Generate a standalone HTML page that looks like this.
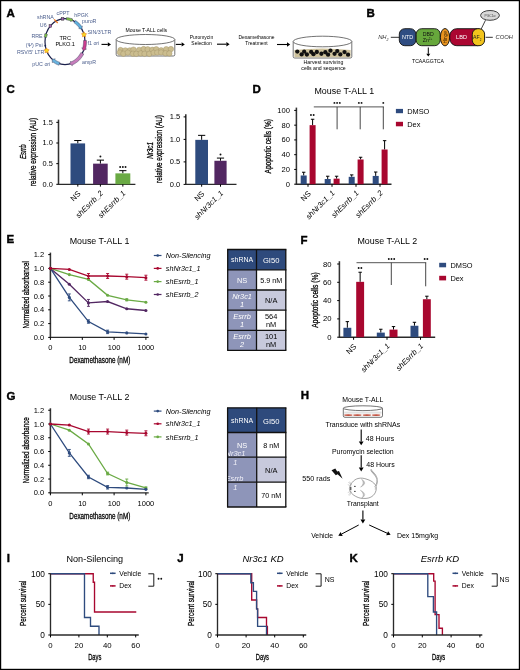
<!DOCTYPE html>
<html><head><meta charset="utf-8"><style>
html,body{margin:0;padding:0;background:#fff;overflow:hidden;width:520px;height:670px;}
svg{display:block;filter:blur(0.3px);}
text{font-family:"Liberation Sans", sans-serif;}
</style></head><body>
<svg width="520" height="670" viewBox="0 0 520 670">
<rect x="0.6" y="0.6" width="518.8" height="668.8" fill="#fff" stroke="#000" stroke-width="1.2"/>
<text x="6.50" y="16.50" font-size="11.5" text-anchor="start" fill="#000" stroke="#000" stroke-width="0.4" font-weight="bold" >A</text>
<ellipse cx="65.0" cy="41.7" rx="20" ry="23" fill="none" stroke="#1a1f4a" stroke-width="1.2"/>
<text x="65.20" y="39.80" font-size="5.6" text-anchor="middle" fill="#000" >TRC</text>
<text x="65.20" y="46.30" font-size="5.6" text-anchor="middle" fill="#000" >PLKO.1</text>
<polygon points="66.49,17.56 66.93,17.60 67.36,17.65 67.79,17.71 68.22,17.78 68.65,17.86 69.08,17.95 69.50,18.05 69.93,18.16 70.35,18.28 70.77,18.41 71.19,18.55 71.60,18.70 71.81,18.14 73.13,20.69 70.55,21.51 70.76,20.95 70.40,20.82 70.03,20.70 69.67,20.58 69.30,20.48 68.93,20.38 68.55,20.29 68.18,20.21 67.81,20.14 67.43,20.08 67.05,20.03 66.68,19.99 66.30,19.95" fill="#7cc242" stroke="#3a3a5a" stroke-width="0.45" stroke-linejoin="round"/>
<polygon points="75.45,20.40 76.04,20.80 76.63,21.21 77.20,21.65 77.75,22.10 78.30,22.58 78.83,23.07 79.34,23.59 79.84,24.12 80.33,24.67 80.80,25.24 81.25,25.82 81.69,26.42 82.34,25.96 81.77,29.17 78.74,28.49 79.40,28.03 79.01,27.50 78.61,26.99 78.20,26.49 77.77,26.01 77.34,25.54 76.88,25.09 76.42,24.66 75.95,24.24 75.46,23.84 74.96,23.46 74.46,23.11 73.94,22.76" fill="#5fb0dd" stroke="#3a3a5a" stroke-width="0.45" stroke-linejoin="round"/>
<polygon points="86.47,40.43 86.49,41.13 86.50,41.84 86.49,42.55 86.46,43.25 86.41,43.96 86.34,44.66 86.26,45.36 86.16,46.06 86.04,46.75 85.90,47.44 85.75,48.13 85.58,48.81 86.45,49.04 83.41,50.69 81.81,47.81 82.68,48.04 82.83,47.43 82.97,46.82 83.09,46.21 83.19,45.59 83.28,44.97 83.36,44.34 83.42,43.72 83.46,43.09 83.49,42.46 83.50,41.83 83.49,41.20 83.47,40.56" fill="#cc3d8f" stroke="#3a3a5a" stroke-width="0.45" stroke-linejoin="round"/>
<polygon points="83.75,53.92 83.08,55.16 82.35,56.36 81.55,57.51 80.70,58.60 79.79,59.64 78.82,60.61 77.81,61.51 76.74,62.35 75.64,63.11 74.49,63.80 73.31,64.41 72.10,64.93 72.39,65.68 69.84,64.02 70.63,61.22 70.92,61.96 71.94,61.52 72.94,61.00 73.91,60.42 74.85,59.77 75.75,59.06 76.62,58.29 77.45,57.45 78.24,56.56 78.98,55.61 79.67,54.62 80.31,53.57 80.89,52.48" fill="#c77dbb" stroke="#3a3a5a" stroke-width="0.45" stroke-linejoin="round"/>
<polygon points="59.02,65.23 58.47,65.05 57.94,64.84 57.40,64.62 56.88,64.39 56.35,64.13 55.84,63.87 55.33,63.58 54.83,63.29 54.33,62.98 53.85,62.65 53.37,62.31 52.90,61.95 52.35,62.66 52.14,59.32 55.29,58.87 54.74,59.58 55.14,59.89 55.55,60.18 55.97,60.46 56.39,60.73 56.82,60.98 57.26,61.22 57.70,61.45 58.14,61.66 58.59,61.87 59.04,62.05 59.50,62.23 59.96,62.38" fill="#6ab4de" stroke="#3a3a5a" stroke-width="0.45" stroke-linejoin="round"/>
<polygon points="44.18,37.11 44.23,36.87 44.27,36.63 44.32,36.39 44.36,36.15 44.41,35.92 44.47,35.68 44.52,35.44 44.58,35.20 44.64,34.97 44.70,34.73 44.76,34.50 44.82,34.27 44.34,34.13 46.33,33.46 47.61,35.05 47.13,34.92 47.07,35.13 47.02,35.34 46.96,35.56 46.91,35.77 46.86,35.99 46.81,36.20 46.76,36.42 46.71,36.64 46.67,36.86 46.63,37.07 46.59,37.29 46.55,37.51" fill="#7cc242" stroke="#3a3a5a" stroke-width="0.45" stroke-linejoin="round"/>
<rect x="61.26" y="17.57" width="2.60" height="2.60" fill="#a05fb0" stroke="#333" stroke-width="0.5" />
<rect x="49.07" y="24.71" width="2.60" height="2.60" fill="#a05fb0" stroke="#333" stroke-width="0.5" />
<line x1="54.12" y1="19.41" x2="57.72" y2="23.01" stroke="#e87722" stroke-width="1.3" />
<polygon points="84.02,31.89 84.84,33.46 86.59,33.76 85.35,35.03 85.61,36.78 84.02,35.99 82.43,36.78 82.69,35.03 81.45,33.76 83.20,33.46" fill="#f7e11e" stroke="#f08c1e" stroke-width="0.7"/>
<polygon points="46.59,47.99 47.41,49.55 49.16,49.85 47.92,51.12 48.18,52.87 46.59,52.09 45.00,52.87 45.26,51.12 44.02,49.85 45.77,49.55" fill="#f7e11e" stroke="#f08c1e" stroke-width="0.7"/>
<circle cx="45.30" cy="45.69" r="0.9" fill="#1a2550" stroke="none" stroke-width="0.5"/>
<text x="53.80" y="19.20" font-size="5.3" text-anchor="end" fill="#4a5d8c" >shRNA</text>
<text x="63.00" y="14.80" font-size="5.3" text-anchor="middle" fill="#4a5d8c" >cPPT</text>
<text x="74.30" y="17.40" font-size="5.3" text-anchor="start" fill="#4a5d8c" >hPGK</text>
<text x="46.60" y="27.40" font-size="5.3" text-anchor="end" fill="#4a5d8c" >U6</text>
<text x="42.60" y="37.90" font-size="5.3" text-anchor="end" fill="#4a5d8c" >RRE</text>
<text x="42.60" y="47.40" font-size="5.3" text-anchor="end" fill="#4a5d8c" >(Ψ) Psi</text>
<text x="44.30" y="53.50" font-size="5.3" text-anchor="end" fill="#4a5d8c" >RSV/5′ LTR</text>
<text x="50.30" y="66.30" font-size="5.3" text-anchor="end" fill="#4a5d8c" >pUC ori</text>
<text x="82.00" y="23.40" font-size="5.3" text-anchor="start" fill="#4a5d8c" >puroR</text>
<text x="87.50" y="34.40" font-size="5.3" text-anchor="start" fill="#4a5d8c" >SIN/3′LTR</text>
<text x="87.50" y="45.20" font-size="5.3" text-anchor="start" fill="#4a5d8c" >f1 ori</text>
<text x="82.00" y="63.50" font-size="5.3" text-anchor="start" fill="#4a5d8c" >ampR</text>
<line x1="101.50" y1="44.40" x2="107.80" y2="44.40" stroke="#000" stroke-width="1.1" />
<polygon points="111.00,44.40 107.80,46.60 107.80,42.20" fill="#000"/>
<path d="M116.2,39.5 L116.2,54.5 Q116.2,56 117.7,56 L173.3,56 Q174.8,56 174.8,54.5 L174.8,39.5" stroke="#444" stroke-width="0.75" fill="#fff" />
<circle cx="120.55" cy="50.09" r="2.75" fill="#cbbd8f" stroke="#9d8e63" stroke-width="0.4"/>
<circle cx="125.31" cy="50.41" r="2.75" fill="#cbbd8f" stroke="#9d8e63" stroke-width="0.4"/>
<circle cx="129.80" cy="50.38" r="2.75" fill="#cbbd8f" stroke="#9d8e63" stroke-width="0.4"/>
<circle cx="133.50" cy="49.64" r="2.75" fill="#cbbd8f" stroke="#9d8e63" stroke-width="0.4"/>
<circle cx="139.15" cy="49.94" r="2.75" fill="#cbbd8f" stroke="#9d8e63" stroke-width="0.4"/>
<circle cx="143.65" cy="49.08" r="2.75" fill="#cbbd8f" stroke="#9d8e63" stroke-width="0.4"/>
<circle cx="147.69" cy="49.29" r="2.75" fill="#cbbd8f" stroke="#9d8e63" stroke-width="0.4"/>
<circle cx="152.33" cy="49.82" r="2.75" fill="#cbbd8f" stroke="#9d8e63" stroke-width="0.4"/>
<circle cx="156.25" cy="49.25" r="2.75" fill="#cbbd8f" stroke="#9d8e63" stroke-width="0.4"/>
<circle cx="161.13" cy="50.37" r="2.75" fill="#cbbd8f" stroke="#9d8e63" stroke-width="0.4"/>
<circle cx="166.26" cy="49.16" r="2.75" fill="#cbbd8f" stroke="#9d8e63" stroke-width="0.4"/>
<circle cx="170.86" cy="49.12" r="2.75" fill="#cbbd8f" stroke="#9d8e63" stroke-width="0.4"/>
<circle cx="119.94" cy="52.50" r="2.75" fill="#cbbd8f" stroke="#9d8e63" stroke-width="0.4"/>
<circle cx="123.38" cy="53.69" r="2.75" fill="#cbbd8f" stroke="#9d8e63" stroke-width="0.4"/>
<circle cx="127.80" cy="52.64" r="2.75" fill="#cbbd8f" stroke="#9d8e63" stroke-width="0.4"/>
<circle cx="132.90" cy="53.70" r="2.75" fill="#cbbd8f" stroke="#9d8e63" stroke-width="0.4"/>
<circle cx="136.25" cy="53.84" r="2.75" fill="#cbbd8f" stroke="#9d8e63" stroke-width="0.4"/>
<circle cx="140.72" cy="53.38" r="2.75" fill="#cbbd8f" stroke="#9d8e63" stroke-width="0.4"/>
<circle cx="144.50" cy="53.81" r="2.75" fill="#cbbd8f" stroke="#9d8e63" stroke-width="0.4"/>
<circle cx="149.25" cy="53.85" r="2.75" fill="#cbbd8f" stroke="#9d8e63" stroke-width="0.4"/>
<circle cx="153.67" cy="52.78" r="2.75" fill="#cbbd8f" stroke="#9d8e63" stroke-width="0.4"/>
<circle cx="157.21" cy="52.57" r="2.75" fill="#cbbd8f" stroke="#9d8e63" stroke-width="0.4"/>
<circle cx="161.12" cy="52.40" r="2.75" fill="#cbbd8f" stroke="#9d8e63" stroke-width="0.4"/>
<circle cx="165.49" cy="53.26" r="2.75" fill="#cbbd8f" stroke="#9d8e63" stroke-width="0.4"/>
<circle cx="169.30" cy="53.38" r="2.75" fill="#cbbd8f" stroke="#9d8e63" stroke-width="0.4"/>
<ellipse cx="145.5" cy="39.5" rx="29.3" ry="5" fill="#fff" stroke="#444" stroke-width="0.75"/>
<text x="146.30" y="32.40" font-size="5.1" text-anchor="middle" fill="#000" >Mouse T-ALL cells</text>
<line x1="175.80" y1="44.40" x2="181.60" y2="44.40" stroke="#000" stroke-width="1.1" />
<polygon points="184.80,44.40 181.60,46.60 181.60,42.20" fill="#000"/>
<text x="201.50" y="38.90" font-size="4.95" text-anchor="middle" fill="#000" >Puromycin</text>
<text x="201.50" y="45.30" font-size="4.95" text-anchor="middle" fill="#000" >Selection</text>
<line x1="217.00" y1="44.20" x2="226.40" y2="44.20" stroke="#000" stroke-width="1.1" />
<polygon points="229.60,44.20 226.40,46.40 226.40,42.00" fill="#000"/>
<text x="256.50" y="38.90" font-size="4.95" text-anchor="middle" fill="#000" >Dexamethasone</text>
<text x="256.50" y="45.30" font-size="4.95" text-anchor="middle" fill="#000" >Treatment</text>
<line x1="277.00" y1="44.50" x2="287.00" y2="44.50" stroke="#000" stroke-width="1.1" />
<polygon points="290.20,44.50 287.00,46.70 287.00,42.30" fill="#000"/>
<path d="M293.2,41.5 L293.2,56.5 Q293.2,58 294.7,58 L350.3,58 Q351.8,58 351.8,56.5 L351.8,41.5" stroke="#444" stroke-width="0.75" fill="#fff" />
<path d="M294.4,57.2 L294.4,50.0 Q322.5,47.0 350.6,50.0 L350.6,57.2 Z" fill="#cfc39d"/>
<circle cx="297.30" cy="51.60" r="2.15" fill="#111"/>
<circle cx="301.62" cy="54.45" r="2.15" fill="#111"/>
<circle cx="304.16" cy="51.64" r="2.15" fill="#111"/>
<circle cx="306.89" cy="54.52" r="2.15" fill="#111"/>
<circle cx="311.15" cy="51.97" r="2.15" fill="#111"/>
<circle cx="313.45" cy="54.19" r="2.15" fill="#111"/>
<circle cx="316.82" cy="52.00" r="2.15" fill="#111"/>
<circle cx="321.40" cy="53.77" r="2.15" fill="#111"/>
<circle cx="325.35" cy="52.24" r="2.15" fill="#111"/>
<circle cx="328.07" cy="54.68" r="2.15" fill="#111"/>
<circle cx="330.45" cy="50.72" r="2.15" fill="#111"/>
<circle cx="334.56" cy="53.80" r="2.15" fill="#111"/>
<circle cx="337.26" cy="51.09" r="2.15" fill="#111"/>
<circle cx="340.31" cy="54.44" r="2.15" fill="#111"/>
<circle cx="344.51" cy="52.05" r="2.15" fill="#111"/>
<circle cx="348.04" cy="54.72" r="2.15" fill="#111"/>
<ellipse cx="322.5" cy="41.5" rx="29.3" ry="5.3" fill="#fff" stroke="#444" stroke-width="0.75"/>
<text x="323.50" y="63.80" font-size="5.2" text-anchor="middle" fill="#000" >Harvest surviving</text>
<text x="323.50" y="69.60" font-size="5.2" text-anchor="middle" fill="#000" >cells and sequence</text>
<text x="366.50" y="16.50" font-size="11.5" text-anchor="start" fill="#000" stroke="#000" stroke-width="0.4" font-weight="bold" >B</text>
<text x="388.50" y="39.30" font-size="5.8" text-anchor="end" fill="#333" font-style="italic" >NH<tspan font-size="3.5" dy="1.5">2</tspan></text>
<line x1="390.80" y1="37.30" x2="399.50" y2="37.30" stroke="#333" stroke-width="1" />
<rect x="399.30" y="28.70" width="16.60" height="17.00" fill="#2f4d82" stroke="#111" stroke-width="0.9" rx="5.5"/>
<text x="407.60" y="39.30" font-size="5.4" text-anchor="middle" fill="#fff" >NTD</text>
<rect x="416.20" y="28.70" width="24.00" height="17.00" fill="#67a83c" stroke="#111" stroke-width="0.9" rx="5.5"/>
<text x="428.20" y="35.60" font-size="5.2" text-anchor="middle" fill="#111" >DBD</text>
<text x="427.50" y="42.20" font-size="5.2" text-anchor="middle" fill="#111" >Zn<tspan font-size="3" dy="-2">2+</tspan></text>
<ellipse cx="445" cy="37.2" rx="4.6" ry="8.7" fill="#e8931f" stroke="#111" stroke-width="0.9"/>
<text transform="translate(446.6,37.4) rotate(-90)" font-size="4.6" text-anchor="middle" fill="#3a2505" textLength="12.3" lengthAdjust="spacingAndGlyphs">Hinge</text>
<rect x="449.80" y="28.70" width="34.60" height="17.00" fill="#ab0631" stroke="#111" stroke-width="0.9" rx="7"/>
<text x="461.50" y="39.30" font-size="5.6" text-anchor="middle" fill="#fff" >LBD</text>
<rect x="472.30" y="28.70" width="12.30" height="17.00" fill="#f2c41c" stroke="#111" stroke-width="0.9" rx="5.5"/>
<text x="477.20" y="39.30" font-size="5.2" text-anchor="middle" fill="#222" >AF<tspan font-size="3" dy="1.5">2</tspan></text>
<line x1="481.20" y1="29.00" x2="485.50" y2="20.20" stroke="#111" stroke-width="0.8" />
<ellipse cx="490" cy="15.4" rx="9.4" ry="4.9" fill="#d8d8d8" stroke="#111" stroke-width="0.8"/>
<text x="490.00" y="16.80" font-size="3.4" text-anchor="middle" fill="#444" >PGC1α</text>
<line x1="485.60" y1="37.30" x2="492.80" y2="37.30" stroke="#333" stroke-width="1" />
<text x="495.50" y="39.30" font-size="5.8" text-anchor="start" fill="#333" font-style="italic" >COOH</text>
<line x1="428.30" y1="47.50" x2="428.30" y2="53.80" stroke="#000" stroke-width="1" />
<polygon points="428.30,56.60 426.30,53.80 430.30,53.80" fill="#000"/>
<text x="428.00" y="63.00" font-size="5.15" text-anchor="middle" fill="#000" >TCAAGGTCA</text>
<text x="6.50" y="92.50" font-size="11.5" text-anchor="start" fill="#000" stroke="#000" stroke-width="0.4" font-weight="bold" >C</text>
<line x1="58.50" y1="119.65" x2="58.50" y2="184.80" stroke="#333" stroke-width="1.55" />
<line x1="56.30" y1="184.30" x2="58.50" y2="184.30" stroke="#000" stroke-width="1" />
<text x="52.80" y="186.67" font-size="7.4" text-anchor="end" fill="#000" >0.0</text>
<line x1="56.30" y1="163.65" x2="58.50" y2="163.65" stroke="#000" stroke-width="1" />
<text x="52.80" y="166.02" font-size="7.4" text-anchor="end" fill="#000" >0.5</text>
<line x1="56.30" y1="143.00" x2="58.50" y2="143.00" stroke="#000" stroke-width="1" />
<text x="52.80" y="145.37" font-size="7.4" text-anchor="end" fill="#000" >1.0</text>
<line x1="56.30" y1="122.35" x2="58.50" y2="122.35" stroke="#000" stroke-width="1" />
<text x="52.80" y="124.72" font-size="7.4" text-anchor="end" fill="#000" >1.5</text>
<line x1="58.00" y1="184.30" x2="135.40" y2="184.30" stroke="#2a2a2a" stroke-width="1.35" />
<line x1="77.80" y1="143.41" x2="77.80" y2="140.52" stroke="#000" stroke-width="1" />
<line x1="74.20" y1="140.52" x2="81.40" y2="140.52" stroke="#000" stroke-width="1" />
<rect x="70.50" y="143.41" width="14.60" height="40.89" fill="#2e4b7e" stroke="none" stroke-width="0" />
<line x1="77.80" y1="184.30" x2="77.80" y2="186.60" stroke="#000" stroke-width="1" />
<line x1="100.40" y1="163.65" x2="100.40" y2="160.14" stroke="#000" stroke-width="1" />
<line x1="96.80" y1="160.14" x2="104.00" y2="160.14" stroke="#000" stroke-width="1" />
<rect x="93.10" y="163.65" width="14.60" height="20.65" fill="#522762" stroke="none" stroke-width="0" />
<line x1="100.40" y1="184.30" x2="100.40" y2="186.60" stroke="#000" stroke-width="1" />
<circle cx="100.40" cy="156.54" r="0.95" fill="#111"/>
<line x1="122.85" y1="173.36" x2="122.85" y2="170.67" stroke="#000" stroke-width="1" />
<line x1="119.25" y1="170.67" x2="126.45" y2="170.67" stroke="#000" stroke-width="1" />
<rect x="115.40" y="173.36" width="14.90" height="10.94" fill="#6aaa44" stroke="none" stroke-width="0" />
<line x1="122.85" y1="184.30" x2="122.85" y2="186.60" stroke="#000" stroke-width="1" />
<circle cx="120.15" cy="167.07" r="0.95" fill="#111"/>
<circle cx="122.85" cy="167.07" r="0.95" fill="#111"/>
<circle cx="125.55" cy="167.07" r="0.95" fill="#111"/>
<text transform="translate(25.90,151.70) rotate(-90)" font-size="9.2" text-anchor="middle" fill="#000" stroke="#000" stroke-width="0.28" font-style="italic" textLength="14.7" lengthAdjust="spacingAndGlyphs">Esrrb</text>
<text transform="translate(36.40,152.00) rotate(-90)" font-size="8.3" text-anchor="middle" fill="#000" stroke="#000" stroke-width="0.28" textLength="68" lengthAdjust="spacingAndGlyphs">relative expression (AU)</text>
<text transform="translate(81.10,194.20) rotate(-45)" font-size="7.7" text-anchor="end" fill="#000">NS</text>
<text transform="translate(103.60,193.60) rotate(-45)" font-size="7.7" text-anchor="end" fill="#000" font-style="italic">shEsrrb_2</text>
<text transform="translate(126.05,193.60) rotate(-45)" font-size="7.7" text-anchor="end" fill="#000" font-style="italic">shEsrrb_1</text>
<line x1="185.80" y1="114.20" x2="185.80" y2="184.90" stroke="#333" stroke-width="1.55" />
<line x1="183.60" y1="184.40" x2="185.80" y2="184.40" stroke="#000" stroke-width="1" />
<text x="180.30" y="186.80" font-size="7.5" text-anchor="end" fill="#000" >0.0</text>
<line x1="183.60" y1="161.90" x2="185.80" y2="161.90" stroke="#000" stroke-width="1" />
<text x="180.30" y="164.30" font-size="7.5" text-anchor="end" fill="#000" >0.5</text>
<line x1="183.60" y1="139.40" x2="185.80" y2="139.40" stroke="#000" stroke-width="1" />
<text x="180.30" y="141.80" font-size="7.5" text-anchor="end" fill="#000" >1.0</text>
<line x1="183.60" y1="116.90" x2="185.80" y2="116.90" stroke="#000" stroke-width="1" />
<text x="180.30" y="119.30" font-size="7.5" text-anchor="end" fill="#000" >1.5</text>
<line x1="185.30" y1="184.40" x2="236.50" y2="184.40" stroke="#2a2a2a" stroke-width="1.35" />
<line x1="201.65" y1="139.85" x2="201.65" y2="135.35" stroke="#000" stroke-width="1" />
<line x1="198.05" y1="135.35" x2="205.25" y2="135.35" stroke="#000" stroke-width="1" />
<rect x="195.30" y="139.85" width="12.70" height="44.55" fill="#2e4b7e" stroke="none" stroke-width="0" />
<line x1="201.65" y1="184.40" x2="201.65" y2="186.70" stroke="#000" stroke-width="1" />
<line x1="220.50" y1="160.78" x2="220.50" y2="158.08" stroke="#000" stroke-width="1" />
<line x1="216.90" y1="158.08" x2="224.10" y2="158.08" stroke="#000" stroke-width="1" />
<rect x="214.40" y="160.78" width="12.20" height="23.62" fill="#522762" stroke="none" stroke-width="0" />
<line x1="220.50" y1="184.40" x2="220.50" y2="186.70" stroke="#000" stroke-width="1" />
<circle cx="220.50" cy="154.48" r="0.95" fill="#111"/>
<text transform="translate(152.70,150.40) rotate(-90)" font-size="9.4" text-anchor="middle" fill="#000" stroke="#000" stroke-width="0.28" font-style="italic" textLength="16.7" lengthAdjust="spacingAndGlyphs">Nr3c1</text>
<text transform="translate(162.10,149.00) rotate(-90)" font-size="8.3" text-anchor="middle" fill="#000" stroke="#000" stroke-width="0.28" textLength="67.8" lengthAdjust="spacingAndGlyphs">relative expression (AU)</text>
<text transform="translate(204.95,194.30) rotate(-45)" font-size="7.7" text-anchor="end" fill="#000">NS</text>
<text transform="translate(223.70,193.70) rotate(-45)" font-size="7.7" text-anchor="end" fill="#000" font-style="italic">shNr3c1_1</text>
<text x="252.50" y="92.50" font-size="11.5" text-anchor="start" fill="#000" stroke="#000" stroke-width="0.4" font-weight="bold" >D</text>
<text x="344.30" y="93.60" font-size="8.9" text-anchor="middle" fill="#000" >Mouse T-ALL 1</text>
<line x1="296.40" y1="107.60" x2="296.40" y2="184.70" stroke="#333" stroke-width="1.55" />
<line x1="294.20" y1="184.20" x2="296.40" y2="184.20" stroke="#000" stroke-width="1" />
<text x="289.90" y="186.71" font-size="7.6" text-anchor="end" fill="#000" >0</text>
<line x1="294.20" y1="169.44" x2="296.40" y2="169.44" stroke="#000" stroke-width="1" />
<text x="289.90" y="171.95" font-size="7.6" text-anchor="end" fill="#000" >20</text>
<line x1="294.20" y1="154.68" x2="296.40" y2="154.68" stroke="#000" stroke-width="1" />
<text x="289.90" y="157.19" font-size="7.6" text-anchor="end" fill="#000" >40</text>
<line x1="294.20" y1="139.92" x2="296.40" y2="139.92" stroke="#000" stroke-width="1" />
<text x="289.90" y="142.43" font-size="7.6" text-anchor="end" fill="#000" >60</text>
<line x1="294.20" y1="125.16" x2="296.40" y2="125.16" stroke="#000" stroke-width="1" />
<text x="289.90" y="127.67" font-size="7.6" text-anchor="end" fill="#000" >80</text>
<line x1="294.20" y1="110.40" x2="296.40" y2="110.40" stroke="#000" stroke-width="1" />
<text x="289.90" y="112.91" font-size="7.6" text-anchor="end" fill="#000" >100</text>
<line x1="295.90" y1="184.20" x2="391.50" y2="184.20" stroke="#2a2a2a" stroke-width="1.35" />
<line x1="303.70" y1="175.49" x2="303.70" y2="172.24" stroke="#000" stroke-width="1" />
<line x1="302.00" y1="172.24" x2="305.40" y2="172.24" stroke="#000" stroke-width="1" />
<rect x="300.70" y="175.49" width="6.00" height="8.71" fill="#2e4b7e" stroke="none" stroke-width="0" />
<line x1="312.60" y1="125.16" x2="312.60" y2="119.26" stroke="#000" stroke-width="1" />
<line x1="310.90" y1="119.26" x2="314.30" y2="119.26" stroke="#000" stroke-width="1" />
<rect x="309.60" y="125.16" width="6.00" height="59.04" fill="#a8072f" stroke="none" stroke-width="0" />
<line x1="308.00" y1="184.20" x2="308.00" y2="186.80" stroke="#000" stroke-width="1" />
<line x1="327.70" y1="179.03" x2="327.70" y2="176.23" stroke="#000" stroke-width="1" />
<line x1="326.00" y1="176.23" x2="329.40" y2="176.23" stroke="#000" stroke-width="1" />
<rect x="324.70" y="179.03" width="6.00" height="5.17" fill="#2e4b7e" stroke="none" stroke-width="0" />
<line x1="336.60" y1="178.66" x2="336.60" y2="176.23" stroke="#000" stroke-width="1" />
<line x1="334.90" y1="176.23" x2="338.30" y2="176.23" stroke="#000" stroke-width="1" />
<rect x="333.60" y="178.66" width="6.00" height="5.53" fill="#a8072f" stroke="none" stroke-width="0" />
<line x1="332.00" y1="184.20" x2="332.00" y2="186.80" stroke="#000" stroke-width="1" />
<line x1="351.70" y1="176.82" x2="351.70" y2="174.90" stroke="#000" stroke-width="1" />
<line x1="350.00" y1="174.90" x2="353.40" y2="174.90" stroke="#000" stroke-width="1" />
<rect x="348.70" y="176.82" width="6.00" height="7.38" fill="#2e4b7e" stroke="none" stroke-width="0" />
<line x1="360.60" y1="159.48" x2="360.60" y2="157.26" stroke="#000" stroke-width="1" />
<line x1="358.90" y1="157.26" x2="362.30" y2="157.26" stroke="#000" stroke-width="1" />
<rect x="357.60" y="159.48" width="6.00" height="24.72" fill="#a8072f" stroke="none" stroke-width="0" />
<line x1="356.00" y1="184.20" x2="356.00" y2="186.80" stroke="#000" stroke-width="1" />
<line x1="375.70" y1="175.93" x2="375.70" y2="172.02" stroke="#000" stroke-width="1" />
<line x1="374.00" y1="172.02" x2="377.40" y2="172.02" stroke="#000" stroke-width="1" />
<rect x="372.70" y="175.93" width="6.00" height="8.27" fill="#2e4b7e" stroke="none" stroke-width="0" />
<line x1="384.60" y1="149.51" x2="384.60" y2="140.66" stroke="#000" stroke-width="1" />
<line x1="382.90" y1="140.66" x2="386.30" y2="140.66" stroke="#000" stroke-width="1" />
<rect x="381.60" y="149.51" width="6.00" height="34.69" fill="#a8072f" stroke="none" stroke-width="0" />
<line x1="380.00" y1="184.20" x2="380.00" y2="186.80" stroke="#000" stroke-width="1" />
<line x1="313.80" y1="106.90" x2="383.90" y2="106.90" stroke="#555" stroke-width="1.0" />
<line x1="337.10" y1="106.90" x2="337.10" y2="129.30" stroke="#333" stroke-width="0.9" />
<line x1="360.20" y1="106.90" x2="360.20" y2="129.30" stroke="#333" stroke-width="0.9" />
<line x1="383.30" y1="106.90" x2="383.30" y2="129.30" stroke="#333" stroke-width="0.9" />
<circle cx="334.40" cy="102.90" r="0.95" fill="#111"/>
<circle cx="337.10" cy="102.90" r="0.95" fill="#111"/>
<circle cx="339.80" cy="102.90" r="0.95" fill="#111"/>
<circle cx="358.85" cy="102.90" r="0.95" fill="#111"/>
<circle cx="361.55" cy="102.90" r="0.95" fill="#111"/>
<circle cx="383.30" cy="102.90" r="0.95" fill="#111"/>
<circle cx="310.95" cy="115.00" r="0.95" fill="#111"/>
<circle cx="313.65" cy="115.00" r="0.95" fill="#111"/>
<text transform="translate(270.80,146.20) rotate(-90)" font-size="8.3" text-anchor="middle" fill="#000" stroke="#000" stroke-width="0.28" textLength="54.5" lengthAdjust="spacingAndGlyphs">Apoptotic cells (%)</text>
<rect x="395.90" y="108.90" width="7.10" height="4.30" fill="#2e4b7e" stroke="none" stroke-width="0" />
<text x="407.20" y="113.80" font-size="7.4" text-anchor="start" fill="#000" >DMSO</text>
<rect x="395.90" y="121.80" width="7.10" height="4.50" fill="#a8072f" stroke="none" stroke-width="0" />
<text x="407.20" y="126.80" font-size="7.4" text-anchor="start" fill="#000" >Dex</text>
<text transform="translate(311.30,194.10) rotate(-45)" font-size="7.7" text-anchor="end" fill="#000">NS</text>
<text transform="translate(335.20,193.50) rotate(-45)" font-size="7.7" text-anchor="end" fill="#000" font-style="italic">shNr3c1_1</text>
<text transform="translate(359.20,193.50) rotate(-45)" font-size="7.7" text-anchor="end" fill="#000" font-style="italic">shEsrrb_1</text>
<text transform="translate(383.20,193.50) rotate(-45)" font-size="7.7" text-anchor="end" fill="#000" font-style="italic">shEsrrb_2</text>
<text x="300.50" y="243.50" font-size="11.5" text-anchor="start" fill="#000" stroke="#000" stroke-width="0.4" font-weight="bold" >F</text>
<text x="387.30" y="244.40" font-size="8.9" text-anchor="middle" fill="#000" >Mouse T-ALL 2</text>
<line x1="339.40" y1="261.20" x2="339.40" y2="337.70" stroke="#333" stroke-width="1.55" />
<line x1="337.20" y1="337.20" x2="339.40" y2="337.20" stroke="#000" stroke-width="1" />
<text x="331.60" y="339.74" font-size="7.7" text-anchor="end" fill="#000" >0</text>
<line x1="337.20" y1="318.90" x2="339.40" y2="318.90" stroke="#000" stroke-width="1" />
<text x="331.60" y="321.44" font-size="7.7" text-anchor="end" fill="#000" >20</text>
<line x1="337.20" y1="300.60" x2="339.40" y2="300.60" stroke="#000" stroke-width="1" />
<text x="331.60" y="303.14" font-size="7.7" text-anchor="end" fill="#000" >40</text>
<line x1="337.20" y1="282.30" x2="339.40" y2="282.30" stroke="#000" stroke-width="1" />
<text x="331.60" y="284.84" font-size="7.7" text-anchor="end" fill="#000" >60</text>
<line x1="337.20" y1="264.00" x2="339.40" y2="264.00" stroke="#000" stroke-width="1" />
<text x="331.60" y="266.54" font-size="7.7" text-anchor="end" fill="#000" >80</text>
<line x1="338.90" y1="337.20" x2="435.20" y2="337.20" stroke="#2a2a2a" stroke-width="1.35" />
<line x1="347.35" y1="327.78" x2="347.35" y2="321.64" stroke="#000" stroke-width="1" />
<line x1="345.65" y1="321.64" x2="349.05" y2="321.64" stroke="#000" stroke-width="1" />
<rect x="343.40" y="327.78" width="7.90" height="9.42" fill="#2e4b7e" stroke="none" stroke-width="0" />
<line x1="360.15" y1="281.84" x2="360.15" y2="272.24" stroke="#000" stroke-width="1" />
<line x1="358.45" y1="272.24" x2="361.85" y2="272.24" stroke="#000" stroke-width="1" />
<rect x="356.20" y="281.84" width="7.90" height="55.36" fill="#a8072f" stroke="none" stroke-width="0" />
<line x1="353.60" y1="337.20" x2="353.60" y2="339.80" stroke="#000" stroke-width="1" />
<line x1="380.80" y1="332.62" x2="380.80" y2="329.24" stroke="#000" stroke-width="1" />
<line x1="379.10" y1="329.24" x2="382.50" y2="329.24" stroke="#000" stroke-width="1" />
<rect x="376.80" y="332.62" width="8.00" height="4.57" fill="#2e4b7e" stroke="none" stroke-width="0" />
<line x1="393.50" y1="329.61" x2="393.50" y2="326.59" stroke="#000" stroke-width="1" />
<line x1="391.80" y1="326.59" x2="395.20" y2="326.59" stroke="#000" stroke-width="1" />
<rect x="389.50" y="329.61" width="8.00" height="7.59" fill="#a8072f" stroke="none" stroke-width="0" />
<line x1="387.00" y1="337.20" x2="387.00" y2="339.80" stroke="#000" stroke-width="1" />
<line x1="414.45" y1="325.76" x2="414.45" y2="322.29" stroke="#000" stroke-width="1" />
<line x1="412.75" y1="322.29" x2="416.15" y2="322.29" stroke="#000" stroke-width="1" />
<rect x="410.50" y="325.76" width="7.90" height="11.44" fill="#2e4b7e" stroke="none" stroke-width="0" />
<line x1="426.85" y1="299.23" x2="426.85" y2="296.21" stroke="#000" stroke-width="1" />
<line x1="425.15" y1="296.21" x2="428.55" y2="296.21" stroke="#000" stroke-width="1" />
<rect x="422.90" y="299.23" width="7.90" height="37.97" fill="#a8072f" stroke="none" stroke-width="0" />
<line x1="420.50" y1="337.20" x2="420.50" y2="339.80" stroke="#000" stroke-width="1" />
<line x1="356.50" y1="262.70" x2="426.20" y2="262.70" stroke="#555" stroke-width="1.0" />
<line x1="391.30" y1="262.70" x2="391.30" y2="285.00" stroke="#333" stroke-width="0.9" />
<line x1="425.70" y1="262.70" x2="425.70" y2="286.30" stroke="#333" stroke-width="0.9" />
<circle cx="388.80" cy="259.00" r="0.95" fill="#111"/>
<circle cx="391.50" cy="259.00" r="0.95" fill="#111"/>
<circle cx="394.20" cy="259.00" r="0.95" fill="#111"/>
<circle cx="424.65" cy="259.00" r="0.95" fill="#111"/>
<circle cx="427.35" cy="259.00" r="0.95" fill="#111"/>
<circle cx="358.65" cy="268.00" r="0.95" fill="#111"/>
<circle cx="361.35" cy="268.00" r="0.95" fill="#111"/>
<text transform="translate(318.20,300.00) rotate(-90)" font-size="8.3" text-anchor="middle" fill="#000" stroke="#000" stroke-width="0.28" textLength="55.4" lengthAdjust="spacingAndGlyphs">Apoptotic cells (%)</text>
<rect x="439.20" y="262.80" width="6.90" height="4.50" fill="#2e4b7e" stroke="none" stroke-width="0" />
<text x="450.40" y="267.70" font-size="7.4" text-anchor="start" fill="#000" >DMSO</text>
<rect x="439.20" y="275.80" width="6.90" height="4.60" fill="#a8072f" stroke="none" stroke-width="0" />
<text x="450.40" y="280.60" font-size="7.4" text-anchor="start" fill="#000" >Dex</text>
<text transform="translate(356.90,347.10) rotate(-45)" font-size="7.7" text-anchor="end" fill="#000">NS</text>
<text transform="translate(390.20,346.50) rotate(-45)" font-size="7.7" text-anchor="end" fill="#000" font-style="italic">shNr3c1_1</text>
<text transform="translate(423.70,346.50) rotate(-45)" font-size="7.7" text-anchor="end" fill="#000" font-style="italic">shEsrrb_1</text>
<text x="6.50" y="243.30" font-size="11.5" text-anchor="start" fill="#000" stroke="#000" stroke-width="0.4" font-weight="bold" >E</text>
<line x1="50.40" y1="252.60" x2="50.40" y2="337.90" stroke="#333" stroke-width="1.55" />
<line x1="48.20" y1="337.40" x2="50.40" y2="337.40" stroke="#000" stroke-width="1" />
<text x="44.10" y="340.00" font-size="7.5" text-anchor="end" fill="#000" >0.0</text>
<line x1="48.20" y1="323.60" x2="50.40" y2="323.60" stroke="#000" stroke-width="1" />
<text x="44.10" y="326.20" font-size="7.5" text-anchor="end" fill="#000" >0.2</text>
<line x1="48.20" y1="309.80" x2="50.40" y2="309.80" stroke="#000" stroke-width="1" />
<text x="44.10" y="312.40" font-size="7.5" text-anchor="end" fill="#000" >0.4</text>
<line x1="48.20" y1="296.00" x2="50.40" y2="296.00" stroke="#000" stroke-width="1" />
<text x="44.10" y="298.60" font-size="7.5" text-anchor="end" fill="#000" >0.6</text>
<line x1="48.20" y1="282.20" x2="50.40" y2="282.20" stroke="#000" stroke-width="1" />
<text x="44.10" y="284.80" font-size="7.5" text-anchor="end" fill="#000" >0.8</text>
<line x1="48.20" y1="268.40" x2="50.40" y2="268.40" stroke="#000" stroke-width="1" />
<text x="44.10" y="271.00" font-size="7.5" text-anchor="end" fill="#000" >1.0</text>
<line x1="48.20" y1="254.60" x2="50.40" y2="254.60" stroke="#000" stroke-width="1" />
<text x="44.10" y="257.20" font-size="7.5" text-anchor="end" fill="#000" >1.2</text>
<line x1="49.90" y1="337.40" x2="148.70" y2="337.40" stroke="#2a2a2a" stroke-width="1.35" />
<line x1="50.40" y1="337.40" x2="50.40" y2="339.90" stroke="#000" stroke-width="1" />
<text x="50.40" y="350.20" font-size="7.5" text-anchor="middle" fill="#000" >0</text>
<line x1="82.30" y1="337.40" x2="82.30" y2="339.90" stroke="#000" stroke-width="1" />
<text x="82.30" y="350.20" font-size="7.5" text-anchor="middle" fill="#000" >10</text>
<line x1="114.10" y1="337.40" x2="114.10" y2="339.90" stroke="#000" stroke-width="1" />
<text x="114.10" y="350.20" font-size="7.5" text-anchor="middle" fill="#000" >100</text>
<line x1="145.90" y1="337.40" x2="145.90" y2="339.90" stroke="#000" stroke-width="1" />
<text x="145.90" y="350.20" font-size="7.5" text-anchor="middle" fill="#000" >1000</text>
<polyline points="50.40,268.40 69.32,284.27 88.46,302.90 107.61,301.52 126.75,308.76 145.90,310.49" fill="none" stroke="#522762" stroke-width="1.3"/>
<circle cx="50.40" cy="268.40" r="1.55" fill="#522762"/>
<circle cx="69.32" cy="284.27" r="1.55" fill="#522762"/>
<line x1="88.46" y1="299.45" x2="88.46" y2="306.35" stroke="#522762" stroke-width="0.9" />
<line x1="86.96" y1="299.45" x2="89.96" y2="299.45" stroke="#522762" stroke-width="0.9" />
<line x1="86.96" y1="306.35" x2="89.96" y2="306.35" stroke="#522762" stroke-width="0.9" />
<circle cx="88.46" cy="302.90" r="1.55" fill="#522762"/>
<circle cx="107.61" cy="301.52" r="1.55" fill="#522762"/>
<circle cx="126.75" cy="308.76" r="1.55" fill="#522762"/>
<circle cx="145.90" cy="310.49" r="1.55" fill="#522762"/>
<polyline points="50.40,268.40 69.32,274.61 88.46,279.44 107.61,295.31 126.75,299.79 145.90,302.21" fill="none" stroke="#6aaa44" stroke-width="1.3"/>
<circle cx="50.40" cy="268.40" r="1.55" fill="#6aaa44"/>
<circle cx="69.32" cy="274.61" r="1.55" fill="#6aaa44"/>
<circle cx="88.46" cy="279.44" r="1.55" fill="#6aaa44"/>
<circle cx="107.61" cy="295.31" r="1.55" fill="#6aaa44"/>
<line x1="126.75" y1="298.76" x2="126.75" y2="300.83" stroke="#6aaa44" stroke-width="0.9" />
<line x1="125.25" y1="298.76" x2="128.25" y2="298.76" stroke="#6aaa44" stroke-width="0.9" />
<line x1="125.25" y1="300.83" x2="128.25" y2="300.83" stroke="#6aaa44" stroke-width="0.9" />
<circle cx="126.75" cy="299.79" r="1.55" fill="#6aaa44"/>
<circle cx="145.90" cy="302.21" r="1.55" fill="#6aaa44"/>
<polyline points="50.40,268.40 69.32,297.38 88.46,321.53 107.61,331.88 126.75,332.91 145.90,333.95" fill="none" stroke="#2e4b7e" stroke-width="1.3"/>
<circle cx="50.40" cy="268.40" r="1.55" fill="#2e4b7e"/>
<line x1="69.32" y1="293.93" x2="69.32" y2="300.83" stroke="#2e4b7e" stroke-width="0.9" />
<line x1="67.82" y1="293.93" x2="70.82" y2="293.93" stroke="#2e4b7e" stroke-width="0.9" />
<line x1="67.82" y1="300.83" x2="70.82" y2="300.83" stroke="#2e4b7e" stroke-width="0.9" />
<circle cx="69.32" cy="297.38" r="1.55" fill="#2e4b7e"/>
<line x1="88.46" y1="319.80" x2="88.46" y2="323.25" stroke="#2e4b7e" stroke-width="0.9" />
<line x1="86.96" y1="319.80" x2="89.96" y2="319.80" stroke="#2e4b7e" stroke-width="0.9" />
<line x1="86.96" y1="323.25" x2="89.96" y2="323.25" stroke="#2e4b7e" stroke-width="0.9" />
<circle cx="88.46" cy="321.53" r="1.55" fill="#2e4b7e"/>
<line x1="107.61" y1="330.15" x2="107.61" y2="333.61" stroke="#2e4b7e" stroke-width="0.9" />
<line x1="106.11" y1="330.15" x2="109.11" y2="330.15" stroke="#2e4b7e" stroke-width="0.9" />
<line x1="106.11" y1="333.61" x2="109.11" y2="333.61" stroke="#2e4b7e" stroke-width="0.9" />
<circle cx="107.61" cy="331.88" r="1.55" fill="#2e4b7e"/>
<circle cx="126.75" cy="332.91" r="1.55" fill="#2e4b7e"/>
<circle cx="145.90" cy="333.95" r="1.55" fill="#2e4b7e"/>
<polyline points="50.40,268.40 69.32,269.43 88.46,275.99 107.61,275.99 126.75,276.68 145.90,277.71" fill="none" stroke="#a8072f" stroke-width="1.3"/>
<circle cx="50.40" cy="268.40" r="1.55" fill="#a8072f"/>
<circle cx="69.32" cy="269.43" r="1.55" fill="#a8072f"/>
<line x1="88.46" y1="273.51" x2="88.46" y2="278.47" stroke="#a8072f" stroke-width="0.9" />
<line x1="86.96" y1="273.51" x2="89.96" y2="273.51" stroke="#a8072f" stroke-width="0.9" />
<line x1="86.96" y1="278.47" x2="89.96" y2="278.47" stroke="#a8072f" stroke-width="0.9" />
<circle cx="88.46" cy="275.99" r="1.55" fill="#a8072f"/>
<line x1="107.61" y1="273.51" x2="107.61" y2="278.47" stroke="#a8072f" stroke-width="0.9" />
<line x1="106.11" y1="273.51" x2="109.11" y2="273.51" stroke="#a8072f" stroke-width="0.9" />
<line x1="106.11" y1="278.47" x2="109.11" y2="278.47" stroke="#a8072f" stroke-width="0.9" />
<circle cx="107.61" cy="275.99" r="1.55" fill="#a8072f"/>
<line x1="126.75" y1="274.20" x2="126.75" y2="279.16" stroke="#a8072f" stroke-width="0.9" />
<line x1="125.25" y1="274.20" x2="128.25" y2="274.20" stroke="#a8072f" stroke-width="0.9" />
<line x1="125.25" y1="279.16" x2="128.25" y2="279.16" stroke="#a8072f" stroke-width="0.9" />
<circle cx="126.75" cy="276.68" r="1.55" fill="#a8072f"/>
<line x1="145.90" y1="275.23" x2="145.90" y2="280.20" stroke="#a8072f" stroke-width="0.9" />
<line x1="144.40" y1="275.23" x2="147.40" y2="275.23" stroke="#a8072f" stroke-width="0.9" />
<line x1="144.40" y1="280.20" x2="147.40" y2="280.20" stroke="#a8072f" stroke-width="0.9" />
<circle cx="145.90" cy="277.71" r="1.55" fill="#a8072f"/>
<text x="99.50" y="244.00" font-size="8.9" text-anchor="middle" fill="#000" >Mouse T-ALL 1</text>
<text x="99.80" y="363.20" font-size="9" text-anchor="middle" fill="#000" stroke="#000" stroke-width="0.28" textLength="61" lengthAdjust="spacingAndGlyphs" >Dexamethasone (nM)</text>
<text transform="translate(28.90,294.80) rotate(-90)" font-size="9" text-anchor="middle" fill="#000" stroke="#000" stroke-width="0.28" textLength="67.2" lengthAdjust="spacingAndGlyphs">Normalized absorbancel</text>
<line x1="153.80" y1="255.50" x2="161.50" y2="255.50" stroke="#2e4b7e" stroke-width="1.2" />
<circle cx="157.7" cy="255.5" r="1.3" fill="#2e4b7e"/>
<text x="165.80" y="258.10" font-size="7.2" text-anchor="start" fill="#000" font-style="italic" >Non-Silencing</text>
<line x1="153.80" y1="268.40" x2="161.50" y2="268.40" stroke="#a8072f" stroke-width="1.2" />
<circle cx="157.7" cy="268.4" r="1.3" fill="#a8072f"/>
<text x="165.80" y="271.00" font-size="7.2" text-anchor="start" fill="#000" font-style="italic" >shNr3c1_1</text>
<line x1="153.80" y1="281.60" x2="161.50" y2="281.60" stroke="#6aaa44" stroke-width="1.2" />
<circle cx="157.7" cy="281.6" r="1.3" fill="#6aaa44"/>
<text x="165.80" y="284.20" font-size="7.2" text-anchor="start" fill="#000" font-style="italic" >shEsrrb_1</text>
<line x1="153.80" y1="294.50" x2="161.50" y2="294.50" stroke="#522762" stroke-width="1.2" />
<circle cx="157.7" cy="294.5" r="1.3" fill="#522762"/>
<text x="165.80" y="297.10" font-size="7.2" text-anchor="start" fill="#000" font-style="italic" >shEsrrb_2</text>
<text x="6.50" y="399.70" font-size="11.5" text-anchor="start" fill="#000" stroke="#000" stroke-width="0.4" font-weight="bold" >G</text>
<line x1="50.40" y1="408.24" x2="50.40" y2="493.30" stroke="#333" stroke-width="1.55" />
<line x1="48.20" y1="492.80" x2="50.40" y2="492.80" stroke="#000" stroke-width="1" />
<text x="44.10" y="495.40" font-size="7.5" text-anchor="end" fill="#000" >0.0</text>
<line x1="48.20" y1="479.04" x2="50.40" y2="479.04" stroke="#000" stroke-width="1" />
<text x="44.10" y="481.64" font-size="7.5" text-anchor="end" fill="#000" >0.2</text>
<line x1="48.20" y1="465.28" x2="50.40" y2="465.28" stroke="#000" stroke-width="1" />
<text x="44.10" y="467.88" font-size="7.5" text-anchor="end" fill="#000" >0.4</text>
<line x1="48.20" y1="451.52" x2="50.40" y2="451.52" stroke="#000" stroke-width="1" />
<text x="44.10" y="454.12" font-size="7.5" text-anchor="end" fill="#000" >0.6</text>
<line x1="48.20" y1="437.76" x2="50.40" y2="437.76" stroke="#000" stroke-width="1" />
<text x="44.10" y="440.36" font-size="7.5" text-anchor="end" fill="#000" >0.8</text>
<line x1="48.20" y1="424.00" x2="50.40" y2="424.00" stroke="#000" stroke-width="1" />
<text x="44.10" y="426.60" font-size="7.5" text-anchor="end" fill="#000" >1.0</text>
<line x1="48.20" y1="410.24" x2="50.40" y2="410.24" stroke="#000" stroke-width="1" />
<text x="44.10" y="412.84" font-size="7.5" text-anchor="end" fill="#000" >1.2</text>
<line x1="49.90" y1="492.80" x2="148.70" y2="492.80" stroke="#2a2a2a" stroke-width="1.35" />
<line x1="50.40" y1="492.80" x2="50.40" y2="495.30" stroke="#000" stroke-width="1" />
<text x="50.40" y="505.60" font-size="7.5" text-anchor="middle" fill="#000" >0</text>
<line x1="82.30" y1="492.80" x2="82.30" y2="495.30" stroke="#000" stroke-width="1" />
<text x="82.30" y="505.60" font-size="7.5" text-anchor="middle" fill="#000" >10</text>
<line x1="114.10" y1="492.80" x2="114.10" y2="495.30" stroke="#000" stroke-width="1" />
<text x="114.10" y="505.60" font-size="7.5" text-anchor="middle" fill="#000" >100</text>
<line x1="145.90" y1="492.80" x2="145.90" y2="495.30" stroke="#000" stroke-width="1" />
<text x="145.90" y="505.60" font-size="7.5" text-anchor="middle" fill="#000" >1000</text>
<polyline points="50.40,424.00 69.32,430.19 88.46,443.95 107.61,473.54 126.75,482.48 145.90,487.98" fill="none" stroke="#6aaa44" stroke-width="1.3"/>
<circle cx="50.40" cy="424.00" r="1.55" fill="#6aaa44"/>
<circle cx="69.32" cy="430.19" r="1.55" fill="#6aaa44"/>
<circle cx="88.46" cy="443.95" r="1.55" fill="#6aaa44"/>
<line x1="107.61" y1="472.16" x2="107.61" y2="474.91" stroke="#6aaa44" stroke-width="0.9" />
<line x1="106.11" y1="472.16" x2="109.11" y2="472.16" stroke="#6aaa44" stroke-width="0.9" />
<line x1="106.11" y1="474.91" x2="109.11" y2="474.91" stroke="#6aaa44" stroke-width="0.9" />
<circle cx="107.61" cy="473.54" r="1.55" fill="#6aaa44"/>
<line x1="126.75" y1="479.04" x2="126.75" y2="485.92" stroke="#6aaa44" stroke-width="0.9" />
<line x1="125.25" y1="479.04" x2="128.25" y2="479.04" stroke="#6aaa44" stroke-width="0.9" />
<line x1="125.25" y1="485.92" x2="128.25" y2="485.92" stroke="#6aaa44" stroke-width="0.9" />
<circle cx="126.75" cy="482.48" r="1.55" fill="#6aaa44"/>
<line x1="145.90" y1="486.95" x2="145.90" y2="489.02" stroke="#6aaa44" stroke-width="0.9" />
<line x1="144.40" y1="486.95" x2="147.40" y2="486.95" stroke="#6aaa44" stroke-width="0.9" />
<line x1="144.40" y1="489.02" x2="147.40" y2="489.02" stroke="#6aaa44" stroke-width="0.9" />
<circle cx="145.90" cy="487.98" r="1.55" fill="#6aaa44"/>
<polyline points="50.40,424.00 69.32,452.90 88.46,476.98 107.61,487.30 126.75,487.98 145.90,489.36" fill="none" stroke="#2e4b7e" stroke-width="1.3"/>
<circle cx="50.40" cy="424.00" r="1.55" fill="#2e4b7e"/>
<line x1="69.32" y1="449.46" x2="69.32" y2="456.34" stroke="#2e4b7e" stroke-width="0.9" />
<line x1="67.82" y1="449.46" x2="70.82" y2="449.46" stroke="#2e4b7e" stroke-width="0.9" />
<line x1="67.82" y1="456.34" x2="70.82" y2="456.34" stroke="#2e4b7e" stroke-width="0.9" />
<circle cx="69.32" cy="452.90" r="1.55" fill="#2e4b7e"/>
<line x1="88.46" y1="475.26" x2="88.46" y2="478.70" stroke="#2e4b7e" stroke-width="0.9" />
<line x1="86.96" y1="475.26" x2="89.96" y2="475.26" stroke="#2e4b7e" stroke-width="0.9" />
<line x1="86.96" y1="478.70" x2="89.96" y2="478.70" stroke="#2e4b7e" stroke-width="0.9" />
<circle cx="88.46" cy="476.98" r="1.55" fill="#2e4b7e"/>
<line x1="107.61" y1="485.58" x2="107.61" y2="489.02" stroke="#2e4b7e" stroke-width="0.9" />
<line x1="106.11" y1="485.58" x2="109.11" y2="485.58" stroke="#2e4b7e" stroke-width="0.9" />
<line x1="106.11" y1="489.02" x2="109.11" y2="489.02" stroke="#2e4b7e" stroke-width="0.9" />
<circle cx="107.61" cy="487.30" r="1.55" fill="#2e4b7e"/>
<circle cx="126.75" cy="487.98" r="1.55" fill="#2e4b7e"/>
<circle cx="145.90" cy="489.36" r="1.55" fill="#2e4b7e"/>
<polyline points="50.40,424.00 69.32,425.03 88.46,431.57 107.61,431.57 126.75,432.60 145.90,433.29" fill="none" stroke="#a8072f" stroke-width="1.3"/>
<circle cx="50.40" cy="424.00" r="1.55" fill="#a8072f"/>
<circle cx="69.32" cy="425.03" r="1.55" fill="#a8072f"/>
<line x1="88.46" y1="429.09" x2="88.46" y2="434.04" stroke="#a8072f" stroke-width="0.9" />
<line x1="86.96" y1="429.09" x2="89.96" y2="429.09" stroke="#a8072f" stroke-width="0.9" />
<line x1="86.96" y1="434.04" x2="89.96" y2="434.04" stroke="#a8072f" stroke-width="0.9" />
<circle cx="88.46" cy="431.57" r="1.55" fill="#a8072f"/>
<line x1="107.61" y1="429.09" x2="107.61" y2="434.04" stroke="#a8072f" stroke-width="0.9" />
<line x1="106.11" y1="429.09" x2="109.11" y2="429.09" stroke="#a8072f" stroke-width="0.9" />
<line x1="106.11" y1="434.04" x2="109.11" y2="434.04" stroke="#a8072f" stroke-width="0.9" />
<circle cx="107.61" cy="431.57" r="1.55" fill="#a8072f"/>
<line x1="126.75" y1="430.12" x2="126.75" y2="435.08" stroke="#a8072f" stroke-width="0.9" />
<line x1="125.25" y1="430.12" x2="128.25" y2="430.12" stroke="#a8072f" stroke-width="0.9" />
<line x1="125.25" y1="435.08" x2="128.25" y2="435.08" stroke="#a8072f" stroke-width="0.9" />
<circle cx="126.75" cy="432.60" r="1.55" fill="#a8072f"/>
<line x1="145.90" y1="430.81" x2="145.90" y2="435.76" stroke="#a8072f" stroke-width="0.9" />
<line x1="144.40" y1="430.81" x2="147.40" y2="430.81" stroke="#a8072f" stroke-width="0.9" />
<line x1="144.40" y1="435.76" x2="147.40" y2="435.76" stroke="#a8072f" stroke-width="0.9" />
<circle cx="145.90" cy="433.29" r="1.55" fill="#a8072f"/>
<text x="99.50" y="400.00" font-size="8.9" text-anchor="middle" fill="#000" >Mouse T-ALL 2</text>
<text x="99.80" y="518.60" font-size="9" text-anchor="middle" fill="#000" stroke="#000" stroke-width="0.28" textLength="61" lengthAdjust="spacingAndGlyphs" >Dexamethasone (nM)</text>
<text transform="translate(28.90,450.20) rotate(-90)" font-size="9" text-anchor="middle" fill="#000" stroke="#000" stroke-width="0.28" textLength="66" lengthAdjust="spacingAndGlyphs">Normalized absorbance</text>
<line x1="153.80" y1="411.10" x2="161.50" y2="411.10" stroke="#2e4b7e" stroke-width="1.2" />
<circle cx="157.7" cy="411.1" r="1.3" fill="#2e4b7e"/>
<text x="165.80" y="413.70" font-size="7.2" text-anchor="start" fill="#000" font-style="italic" >Non-Silencing</text>
<line x1="153.80" y1="423.80" x2="161.50" y2="423.80" stroke="#a8072f" stroke-width="1.2" />
<circle cx="157.7" cy="423.8" r="1.3" fill="#a8072f"/>
<text x="165.80" y="426.40" font-size="7.2" text-anchor="start" fill="#000" font-style="italic" >shNr3c1_1</text>
<line x1="153.80" y1="436.90" x2="161.50" y2="436.90" stroke="#6aaa44" stroke-width="1.2" />
<circle cx="157.7" cy="436.9" r="1.3" fill="#6aaa44"/>
<text x="165.80" y="439.50" font-size="7.2" text-anchor="start" fill="#000" font-style="italic" >shEsrrb_1</text>
<rect x="227.70" y="249.50" width="28.80" height="20.40" fill="#2e4a7c" stroke="none" stroke-width="0" />
<rect x="256.50" y="249.50" width="29.30" height="20.40" fill="#2e4a7c" stroke="none" stroke-width="0" />
<rect x="227.70" y="269.90" width="28.80" height="20.10" fill="#8e95b9" stroke="none" stroke-width="0" />
<rect x="256.50" y="269.90" width="29.30" height="20.10" fill="#fff" stroke="none" stroke-width="0" />
<rect x="227.70" y="290.00" width="28.80" height="20.20" fill="#8e95b9" stroke="none" stroke-width="0" />
<rect x="256.50" y="290.00" width="29.30" height="20.20" fill="#c7c9dc" stroke="none" stroke-width="0" />
<rect x="227.70" y="310.20" width="28.80" height="20.10" fill="#8e95b9" stroke="none" stroke-width="0" />
<rect x="256.50" y="310.20" width="29.30" height="20.10" fill="#fff" stroke="none" stroke-width="0" />
<rect x="227.70" y="330.30" width="28.80" height="20.00" fill="#8e95b9" stroke="none" stroke-width="0" />
<rect x="256.50" y="330.30" width="29.30" height="20.00" fill="#c7c9dc" stroke="none" stroke-width="0" />
<line x1="227.10" y1="249.50" x2="286.40" y2="249.50" stroke="#111" stroke-width="1.3" />
<line x1="227.10" y1="269.90" x2="286.40" y2="269.90" stroke="#111" stroke-width="1.3" />
<line x1="227.10" y1="290.00" x2="286.40" y2="290.00" stroke="#111" stroke-width="1.3" />
<line x1="227.10" y1="310.20" x2="286.40" y2="310.20" stroke="#111" stroke-width="1.3" />
<line x1="227.10" y1="330.30" x2="286.40" y2="330.30" stroke="#111" stroke-width="1.3" />
<line x1="227.10" y1="350.30" x2="286.40" y2="350.30" stroke="#111" stroke-width="1.3" />
<line x1="227.70" y1="249.50" x2="227.70" y2="350.30" stroke="#111" stroke-width="1.3" />
<line x1="256.50" y1="249.50" x2="256.50" y2="350.30" stroke="#111" stroke-width="1.3" />
<line x1="285.80" y1="249.50" x2="285.80" y2="350.30" stroke="#111" stroke-width="1.3" />
<text x="242.10" y="262.30" font-size="7" text-anchor="middle" fill="#fff" >shRNA</text>
<text x="271.15" y="262.50" font-size="7.6" text-anchor="middle" fill="#fff" >GI50</text>
<text x="242.10" y="282.80" font-size="7.4" text-anchor="middle" fill="#fff" >NS</text>
<text x="271.15" y="282.80" font-size="7.2" text-anchor="middle" fill="#000" >5.9 nM</text>
<text x="242.10" y="298.60" font-size="7.4" text-anchor="middle" fill="#fff" font-style="italic" >Nr3c1</text>
<text x="242.10" y="306.80" font-size="7.4" text-anchor="middle" fill="#fff" font-style="italic" >1</text>
<text x="271.15" y="302.90" font-size="7.4" text-anchor="middle" fill="#000" >N/A</text>
<text x="242.10" y="318.70" font-size="7.4" text-anchor="middle" fill="#fff" font-style="italic" >Esrrb</text>
<text x="242.10" y="326.90" font-size="7.4" text-anchor="middle" fill="#fff" font-style="italic" >1</text>
<text x="271.15" y="318.70" font-size="7.4" text-anchor="middle" fill="#000" >564</text>
<text x="271.15" y="326.90" font-size="7.4" text-anchor="middle" fill="#000" >nM</text>
<text x="242.10" y="338.80" font-size="7.4" text-anchor="middle" fill="#fff" font-style="italic" >Esrrb</text>
<text x="242.10" y="347.00" font-size="7.4" text-anchor="middle" fill="#fff" font-style="italic" >2</text>
<text x="271.15" y="338.80" font-size="7.4" text-anchor="middle" fill="#000" >101</text>
<text x="271.15" y="347.00" font-size="7.4" text-anchor="middle" fill="#000" >nM</text>
<rect x="227.60" y="407.80" width="29.10" height="24.70" fill="#2e4a7c" stroke="none" stroke-width="0" />
<rect x="256.70" y="407.80" width="29.10" height="24.70" fill="#2e4a7c" stroke="none" stroke-width="0" />
<rect x="227.60" y="432.50" width="29.10" height="24.60" fill="#8e95b9" stroke="none" stroke-width="0" />
<rect x="256.70" y="432.50" width="29.10" height="24.60" fill="#fff" stroke="none" stroke-width="0" />
<rect x="227.60" y="457.10" width="29.10" height="25.10" fill="#8e95b9" stroke="none" stroke-width="0" />
<rect x="256.70" y="457.10" width="29.10" height="25.10" fill="#c7c9dc" stroke="none" stroke-width="0" />
<rect x="227.60" y="482.20" width="29.10" height="24.80" fill="#8e95b9" stroke="none" stroke-width="0" />
<rect x="256.70" y="482.20" width="29.10" height="24.80" fill="#fff" stroke="none" stroke-width="0" />
<line x1="227.00" y1="407.80" x2="286.40" y2="407.80" stroke="#111" stroke-width="1.3" />
<line x1="227.00" y1="432.50" x2="286.40" y2="432.50" stroke="#111" stroke-width="1.3" />
<line x1="227.00" y1="457.10" x2="286.40" y2="457.10" stroke="#111" stroke-width="1.3" />
<line x1="227.00" y1="482.20" x2="286.40" y2="482.20" stroke="#111" stroke-width="1.3" />
<line x1="227.00" y1="507.00" x2="286.40" y2="507.00" stroke="#111" stroke-width="1.3" />
<line x1="227.60" y1="407.80" x2="227.60" y2="507.00" stroke="#111" stroke-width="1.3" />
<line x1="256.70" y1="407.80" x2="256.70" y2="507.00" stroke="#111" stroke-width="1.3" />
<line x1="285.80" y1="407.80" x2="285.80" y2="507.00" stroke="#111" stroke-width="1.3" />
<text x="242.10" y="423.30" font-size="7" text-anchor="middle" fill="#fff" >shRNA</text>
<text x="271.25" y="423.50" font-size="7.6" text-anchor="middle" fill="#fff" >GI50</text>
<text x="242.10" y="448.10" font-size="7.4" text-anchor="middle" fill="#fff" >NS</text>
<text x="271.25" y="448.10" font-size="7.2" text-anchor="middle" fill="#000" >8 nM</text>
<clipPath id="gclip"><rect x="228.1" y="400" width="40" height="110"/></clipPath><g clip-path="url(#gclip)">
<text x="225.60" y="456.20" font-size="7.4" text-anchor="start" fill="#f0f0f8" font-style="italic" >Nr3c1</text>
<text x="233.30" y="464.90" font-size="7.4" text-anchor="start" fill="#f0f0f8" font-style="italic" >1</text>
<text x="225.60" y="481.30" font-size="7.4" text-anchor="start" fill="#f0f0f8" font-style="italic" >Esrrb</text>
<text x="233.30" y="489.60" font-size="7.4" text-anchor="start" fill="#f0f0f8" font-style="italic" >1</text>
</g>
<text x="271.25" y="472.60" font-size="7.4" text-anchor="middle" fill="#000" >N/A</text>
<text x="271.25" y="498.10" font-size="7.2" text-anchor="middle" fill="#000" >70 nM</text>
<text x="300.70" y="399.30" font-size="11.5" text-anchor="start" fill="#000" stroke="#000" stroke-width="0.4" font-weight="bold" >H</text>
<text x="362.80" y="401.60" font-size="6.9" text-anchor="middle" fill="#000" >Mouse T-ALL</text>
<path d="M343.3,408.2 L343.3,415.8 Q343.3,417.3 345,417.3 L380.8,417.3 Q382.5,417.3 382.5,415.8 L382.5,408.2" stroke="#444" stroke-width="0.75" fill="#fff" />
<rect x="344.2" y="411.6" width="37.4" height="2.0" fill="#e2e2e2"/>
<ellipse cx="348.3" cy="415.1" rx="4.4" ry="0.85" fill="#c2503e"/>
<ellipse cx="357.4" cy="415.1" rx="4.4" ry="0.85" fill="#c2503e"/>
<ellipse cx="366.9" cy="415.1" rx="4.4" ry="0.85" fill="#c2503e"/>
<ellipse cx="376.1" cy="415.1" rx="4.4" ry="0.85" fill="#c2503e"/>
<ellipse cx="362.9" cy="408.2" rx="19.6" ry="2.4" fill="#fff" stroke="#444" stroke-width="0.75"/>
<text x="362.80" y="427.40" font-size="7" text-anchor="middle" fill="#000" >Transduce with shRNAs</text>
<line x1="361.20" y1="429.60" x2="361.20" y2="441.40" stroke="#000" stroke-width="1.1" />
<polygon points="361.20,445.20 358.80,441.40 363.60,441.40" fill="#000"/>
<text x="365.80" y="441.20" font-size="7" text-anchor="start" fill="#000" >48 Hours</text>
<text x="362.80" y="453.70" font-size="6.9" text-anchor="middle" fill="#000" >Puromycin selection</text>
<line x1="361.20" y1="455.20" x2="361.20" y2="467.60" stroke="#000" stroke-width="1.1" />
<polygon points="361.20,471.40 358.80,467.60 363.60,467.60" fill="#000"/>
<text x="366.30" y="467.00" font-size="7" text-anchor="start" fill="#000" >48 Hours</text>
<text x="302.30" y="481.40" font-size="7.2" text-anchor="start" fill="#000" >550 rads</text>
<polygon points="331.5,470.2 335.3,468.4 337.2,471.6 339.0,470.9 342.6,478.8 337.6,474.3 335.8,475.2" fill="#111"/>
<path d="M374.2,488.2 C377.8,484.3 378.2,479.2 375.6,475.6 C373.6,472.9 371.6,471.4 370.9,469.4" fill="none" stroke="#8a8a8a" stroke-width="1.4"/>
<path d="M374.2,488.2 C377.8,484.3 378.2,479.2 375.6,475.6 C373.6,472.9 371.6,471.4 370.9,469.4" fill="none" stroke="#e4e4e4" stroke-width="0.5"/>
<path d="M349.4,488.6 C350,484.2 353.6,479.6 358,478.5 C361,477.7 364,478.2 367,479.3 C372.5,481 376.5,484.5 376.3,488.5 C376,494 372,498 366,498.4 C362,498.6 359.5,498.2 357,497 C352.6,495 349.6,492 349.4,488.6 Z" fill="#fff" stroke="#555" stroke-width="0.55"/>
<path d="M361.6,479.2 Q368.4,483.1 360.6,487.2 Q365.2,483.2 361.6,479.2 Z" fill="#c4c4c4" stroke="#888" stroke-width="0.35"/>
<path d="M360.4,490.2 Q368.4,494.4 361.8,498.1 Q365.4,494.3 360.4,490.2 Z" fill="#c4c4c4" stroke="#888" stroke-width="0.35"/>
<path d="M374.3,486.2 Q376.2,487.6 375.2,489.6" fill="none" stroke="#777" stroke-width="0.4"/>
<ellipse cx="354.9" cy="486.3" rx="0.8" ry="0.65" fill="#111"/><ellipse cx="354.9" cy="491.3" rx="0.8" ry="0.65" fill="#111"/>
<rect x="350.1" y="486.9" width="1.3" height="3.2" fill="#555"/>
<line x1="351.60" y1="485.30" x2="348.30" y2="482.00" stroke="#888" stroke-width="0.35" />
<line x1="351.20" y1="486.00" x2="347.80" y2="484.60" stroke="#888" stroke-width="0.35" />
<line x1="351.40" y1="484.80" x2="349.60" y2="481.60" stroke="#888" stroke-width="0.35" />
<line x1="351.60" y1="491.80" x2="348.30" y2="495.00" stroke="#888" stroke-width="0.35" />
<line x1="351.20" y1="491.10" x2="347.80" y2="492.60" stroke="#888" stroke-width="0.35" />
<line x1="351.40" y1="492.30" x2="349.60" y2="495.60" stroke="#888" stroke-width="0.35" />
<text x="362.80" y="506.30" font-size="6.8" text-anchor="middle" fill="#000" >Transplant</text>
<line x1="362.90" y1="510.40" x2="362.90" y2="519.60" stroke="#000" stroke-width="1.1" />
<polygon points="362.90,523.40 360.50,519.60 365.30,519.60" fill="#000"/>
<line x1="358.70" y1="525.00" x2="341.66" y2="534.02" stroke="#000" stroke-width="1.0" />
<polygon points="338.30,535.80 340.58,531.99 342.73,536.05" fill="#000"/>
<line x1="369.20" y1="525.00" x2="387.15" y2="533.22" stroke="#000" stroke-width="1.0" />
<polygon points="390.60,534.80 386.19,535.31 388.10,531.13" fill="#000"/>
<text x="311.20" y="538.00" font-size="6.8" text-anchor="start" fill="#000" >Vehicle</text>
<text x="396.90" y="537.80" font-size="7" text-anchor="start" fill="#000" >Dex 15mg/kg</text>
<text x="6.80" y="561.70" font-size="11.5" text-anchor="start" fill="#000" stroke="#000" stroke-width="0.4" font-weight="bold" >I</text>
<text x="94.80" y="562.40" font-size="9.1" text-anchor="middle" fill="#000" >Non-Silencing</text>
<path d="M50.50,573.70 L93.24,573.70 L93.24,582.28 L94.52,582.28 L94.52,612.01 L136.27,612.01" stroke="#a8072f" stroke-width="1.35" fill="none" />
<path d="M50.50,573.70 L84.49,573.70 L84.49,617.47 L90.50,617.47 L90.50,626.23 L98.99,626.23 L98.99,635.00" stroke="#2e4b7e" stroke-width="1.35" fill="none" />
<line x1="50.50" y1="573.70" x2="50.50" y2="635.50" stroke="#2a2a2a" stroke-width="1.35" />
<line x1="50.00" y1="635.00" x2="138.75" y2="635.00" stroke="#2a2a2a" stroke-width="1.35" />
<line x1="48.30" y1="635.00" x2="50.50" y2="635.00" stroke="#000" stroke-width="1" />
<text x="44.90" y="637.90" font-size="8.3" text-anchor="end" fill="#000" >0</text>
<line x1="48.30" y1="604.35" x2="50.50" y2="604.35" stroke="#000" stroke-width="1" />
<text x="44.90" y="607.25" font-size="8.3" text-anchor="end" fill="#000" >50</text>
<line x1="48.30" y1="573.70" x2="50.50" y2="573.70" stroke="#000" stroke-width="1" />
<text x="44.90" y="576.60" font-size="8.3" text-anchor="end" fill="#000" >100</text>
<line x1="50.50" y1="635.00" x2="50.50" y2="637.40" stroke="#000" stroke-width="1" />
<text x="50.50" y="648.00" font-size="7.8" text-anchor="middle" fill="#000" >0</text>
<line x1="78.90" y1="635.00" x2="78.90" y2="637.40" stroke="#000" stroke-width="1" />
<text x="78.90" y="648.00" font-size="7.8" text-anchor="middle" fill="#000" >20</text>
<line x1="107.30" y1="635.00" x2="107.30" y2="637.40" stroke="#000" stroke-width="1" />
<text x="107.30" y="648.00" font-size="7.8" text-anchor="middle" fill="#000" >40</text>
<line x1="135.70" y1="635.00" x2="135.70" y2="637.40" stroke="#000" stroke-width="1" />
<text x="135.70" y="648.00" font-size="7.8" text-anchor="middle" fill="#000" >60</text>
<text transform="translate(26.20,603.30) rotate(-90)" font-size="8.6" text-anchor="middle" fill="#000" stroke="#000" stroke-width="0.28" textLength="45.4" lengthAdjust="spacingAndGlyphs">Percent survival</text>
<text x="94.80" y="659.80" font-size="9" text-anchor="middle" fill="#000" stroke="#000" stroke-width="0.28" textLength="13.2" lengthAdjust="spacingAndGlyphs" >Days</text>
<line x1="110.00" y1="573.30" x2="115.60" y2="573.30" stroke="#2e4b7e" stroke-width="1.5" />
<line x1="112.80" y1="572.40" x2="112.80" y2="574.20" stroke="#2e4b7e" stroke-width="0.8" />
<text x="119.30" y="575.50" font-size="6.8" text-anchor="start" fill="#000" >Vehicle</text>
<line x1="110.00" y1="585.90" x2="115.60" y2="585.90" stroke="#a8072f" stroke-width="1.5" />
<line x1="112.80" y1="585.00" x2="112.80" y2="586.80" stroke="#a8072f" stroke-width="0.8" />
<text x="119.30" y="588.20" font-size="6.8" text-anchor="start" fill="#000" >Dex</text>
<path d="M148.3,573.8 L153.8,573.8 L153.8,586.2 L148.3,586.2" stroke="#000" stroke-width="0.9" fill="none" />
<circle cx="158.55" cy="578.80" r="0.95" fill="#111"/>
<circle cx="161.25" cy="578.80" r="0.95" fill="#111"/>
<text x="177.30" y="561.70" font-size="11.5" text-anchor="start" fill="#000" stroke="#000" stroke-width="0.4" font-weight="bold" >J</text>
<text x="263.10" y="562.40" font-size="9.5" text-anchor="middle" fill="#000" font-style="italic" >Nr3c1 KD</text>
<path d="M217.50,573.70 L251.70,573.70 L251.70,600.00 L256.60,600.00 L256.60,608.82 L257.60,608.82 L257.60,617.47 L266.50,617.47 L266.50,626.30 L267.40,626.30 L267.40,635.00" stroke="#a8072f" stroke-width="1.35" fill="none" />
<path d="M217.50,573.70 L250.85,573.70 L250.85,582.71 L253.40,582.71 L253.40,591.35 L256.60,591.35 L256.60,608.82 L257.60,608.82 L257.60,626.30 L266.50,626.30 L266.50,635.00" stroke="#2e4b7e" stroke-width="1.35" fill="none" />
<line x1="217.50" y1="573.70" x2="217.50" y2="635.50" stroke="#2a2a2a" stroke-width="1.35" />
<line x1="217.00" y1="635.00" x2="306.25" y2="635.00" stroke="#2a2a2a" stroke-width="1.35" />
<line x1="215.30" y1="635.00" x2="217.50" y2="635.00" stroke="#000" stroke-width="1" />
<text x="211.90" y="637.90" font-size="8.3" text-anchor="end" fill="#000" >0</text>
<line x1="215.30" y1="604.35" x2="217.50" y2="604.35" stroke="#000" stroke-width="1" />
<text x="211.90" y="607.25" font-size="8.3" text-anchor="end" fill="#000" >50</text>
<line x1="215.30" y1="573.70" x2="217.50" y2="573.70" stroke="#000" stroke-width="1" />
<text x="211.90" y="576.60" font-size="8.3" text-anchor="end" fill="#000" >100</text>
<line x1="217.50" y1="635.00" x2="217.50" y2="637.40" stroke="#000" stroke-width="1" />
<text x="217.50" y="648.00" font-size="7.8" text-anchor="middle" fill="#000" >0</text>
<line x1="246.10" y1="635.00" x2="246.10" y2="637.40" stroke="#000" stroke-width="1" />
<text x="246.10" y="648.00" font-size="7.8" text-anchor="middle" fill="#000" >20</text>
<line x1="274.70" y1="635.00" x2="274.70" y2="637.40" stroke="#000" stroke-width="1" />
<text x="274.70" y="648.00" font-size="7.8" text-anchor="middle" fill="#000" >40</text>
<line x1="303.30" y1="635.00" x2="303.30" y2="637.40" stroke="#000" stroke-width="1" />
<text x="303.30" y="648.00" font-size="7.8" text-anchor="middle" fill="#000" >60</text>
<text transform="translate(193.60,603.30) rotate(-90)" font-size="8.6" text-anchor="middle" fill="#000" stroke="#000" stroke-width="0.28" textLength="45.4" lengthAdjust="spacingAndGlyphs">Percent survival</text>
<text x="262.40" y="659.80" font-size="9" text-anchor="middle" fill="#000" stroke="#000" stroke-width="0.28" textLength="13.2" lengthAdjust="spacingAndGlyphs" >Days</text>
<line x1="277.00" y1="573.30" x2="282.60" y2="573.30" stroke="#2e4b7e" stroke-width="1.5" />
<line x1="279.80" y1="572.40" x2="279.80" y2="574.20" stroke="#2e4b7e" stroke-width="0.8" />
<text x="286.30" y="575.50" font-size="6.8" text-anchor="start" fill="#000" >Vehicle</text>
<line x1="277.00" y1="585.90" x2="282.60" y2="585.90" stroke="#a8072f" stroke-width="1.5" />
<line x1="279.80" y1="585.00" x2="279.80" y2="586.80" stroke="#a8072f" stroke-width="0.8" />
<text x="286.30" y="588.20" font-size="6.8" text-anchor="start" fill="#000" >Dex</text>
<path d="M315.6,573.8 L321.1,573.8 L321.1,586.2 L315.6,586.2" stroke="#000" stroke-width="0.9" fill="none" />
<text x="324.80" y="582.20" font-size="7" text-anchor="start" fill="#000" >NS</text>
<text x="349.50" y="561.70" font-size="11.5" text-anchor="start" fill="#000" stroke="#000" stroke-width="0.4" font-weight="bold" >K</text>
<text x="439.90" y="562.40" font-size="9.5" text-anchor="middle" fill="#000" font-style="italic" >Esrrb KD</text>
<path d="M393.50,573.70 L433.70,573.70 L433.70,581.06 L435.10,581.06 L435.10,614.59 L439.00,614.59 L439.00,628.26 L442.40,628.26 L442.40,635.00" stroke="#a8072f" stroke-width="1.35" fill="none" />
<path d="M393.50,573.70 L427.80,573.70 L427.80,596.69 L433.40,596.69 L433.40,612.01 L436.60,612.01 L436.60,635.00" stroke="#2e4b7e" stroke-width="1.35" fill="none" />
<line x1="393.50" y1="573.70" x2="393.50" y2="635.50" stroke="#2a2a2a" stroke-width="1.35" />
<line x1="393.00" y1="635.00" x2="482.30" y2="635.00" stroke="#2a2a2a" stroke-width="1.35" />
<line x1="391.30" y1="635.00" x2="393.50" y2="635.00" stroke="#000" stroke-width="1" />
<text x="387.90" y="637.90" font-size="8.3" text-anchor="end" fill="#000" >0</text>
<line x1="391.30" y1="604.35" x2="393.50" y2="604.35" stroke="#000" stroke-width="1" />
<text x="387.90" y="607.25" font-size="8.3" text-anchor="end" fill="#000" >50</text>
<line x1="391.30" y1="573.70" x2="393.50" y2="573.70" stroke="#000" stroke-width="1" />
<text x="387.90" y="576.60" font-size="8.3" text-anchor="end" fill="#000" >100</text>
<line x1="393.50" y1="635.00" x2="393.50" y2="637.40" stroke="#000" stroke-width="1" />
<text x="393.50" y="648.00" font-size="7.8" text-anchor="middle" fill="#000" >0</text>
<line x1="422.30" y1="635.00" x2="422.30" y2="637.40" stroke="#000" stroke-width="1" />
<text x="422.30" y="648.00" font-size="7.8" text-anchor="middle" fill="#000" >20</text>
<line x1="451.10" y1="635.00" x2="451.10" y2="637.40" stroke="#000" stroke-width="1" />
<text x="451.10" y="648.00" font-size="7.8" text-anchor="middle" fill="#000" >40</text>
<line x1="479.90" y1="635.00" x2="479.90" y2="637.40" stroke="#000" stroke-width="1" />
<text x="479.90" y="648.00" font-size="7.8" text-anchor="middle" fill="#000" >60</text>
<text transform="translate(369.10,603.30) rotate(-90)" font-size="8.6" text-anchor="middle" fill="#000" stroke="#000" stroke-width="0.28" textLength="45.4" lengthAdjust="spacingAndGlyphs">Percent survival</text>
<text x="438.60" y="659.80" font-size="9" text-anchor="middle" fill="#000" stroke="#000" stroke-width="0.28" textLength="13.2" lengthAdjust="spacingAndGlyphs" >Days</text>
<line x1="452.50" y1="573.30" x2="458.10" y2="573.30" stroke="#2e4b7e" stroke-width="1.5" />
<line x1="455.30" y1="572.40" x2="455.30" y2="574.20" stroke="#2e4b7e" stroke-width="0.8" />
<text x="461.80" y="575.50" font-size="6.8" text-anchor="start" fill="#000" >Vehicle</text>
<line x1="452.50" y1="585.90" x2="458.10" y2="585.90" stroke="#a8072f" stroke-width="1.5" />
<line x1="455.30" y1="585.00" x2="455.30" y2="586.80" stroke="#a8072f" stroke-width="0.8" />
<text x="461.80" y="588.20" font-size="6.8" text-anchor="start" fill="#000" >Dex</text>
<path d="M491.7,573.8 L497.2,573.8 L497.2,586.2 L491.7,586.2" stroke="#000" stroke-width="0.9" fill="none" />
<text x="499.60" y="582.20" font-size="7" text-anchor="start" fill="#000" >NS</text>
</svg>
</body></html>
